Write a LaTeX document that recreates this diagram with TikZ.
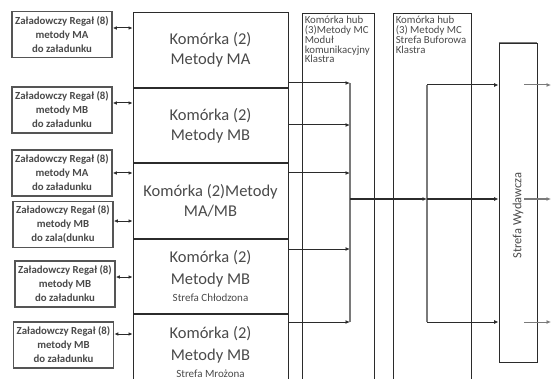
\documentclass[tikz,border=0pt]{standalone}
\usepackage{fontspec}
\setmainfont{Carlito}
\usetikzlibrary{arrows.meta,positioning}
\definecolor{Ink}{HTML}{2B2B2B}
\definecolor{Txt}{HTML}{4A4A4A}
\definecolor{Frame}{HTML}{555555}
\definecolor{Wire}{HTML}{7A7A7A}

\begin{document}
\begin{tikzpicture}[x=1pt,y=-1pt,
    rack/.style={draw=Frame,line width=1.6pt,fill=white,text=Txt,align=center,
      minimum width=100pt,minimum height=46pt,inner sep=0pt,
      font=\bfseries\fontsize{10.8}{14}\selectfont},
    cell/.style={draw=Ink,line width=0.9pt,text=Txt,align=center,
      minimum width=155pt,minimum height=74.5pt,inner sep=0pt,
      font=\fontsize{16.5}{20}\selectfont},
    hub/.style={draw=Ink,line width=0.9pt,minimum height=380pt,anchor=north,inner sep=0pt},
    hubtext/.style={anchor=north west,align=left,text=Txt,inner sep=3pt,
      font=\fontsize{10.8}{9.8}\selectfont},
    link/.style={Ink,line width=1pt,-{Latex[length=4.5pt,width=4pt]}},
    twoway/.style={Ink,line width=1pt,{Latex[length=4pt,width=3.6pt]}-{Latex[length=4pt,width=3.6pt]}},
    bus/.style={Wire,line width=1.5pt}]
  \useasboundingbox (0,0) rectangle (553,379);
  \clip (0,0) rectangle (553,379);

  % regaly zaladowcze
  \node[rack] (r1) at (62,34.5) {Załadowczy Regał (8)\\metody MA\\do załadunku};
  \node[rack] (r2) at (62,110) {Załadowczy Regał (8)\\metody MB\\do załadunku};
  \node[rack] (r3) at (62,173) {Załadowczy Regał (8)\\metody MA\\do załadunku};
  \node[rack] (r4) at (63,224.5) {Załadowczy Regał (8)\\metody MB\\do zala(dunku};
  \node[rack] (r5) at (65,284) {Załadowczy Regał (8)\\metody MB\\do załadunku};
  \node[rack] (r6) at (63.5,345) {Załadowczy Regał (8)\\metody MB\\do załadunku};

  % komorki
  \node[cell] (c1) at (210.5,50) {Komórka (2)\\Metody MA};
  \node[cell,below=0pt of c1] (c2) {Komórka (2)\\Metody MB};
  \node[cell,below=0pt of c2] (c3) {Komórka (2)Metody\\MA/MB};
  \node[cell,below=0pt of c3] (c4) {Komórka (2)\\[2pt]Metody MB\\[-3pt]{\fontsize{11}{13}\selectfont Strefa Chłodzona}};
  \node[cell,below=0pt of c4] (c5) {Komórka (2)\\[2pt]Metody MB\\[-3pt]{\fontsize{11}{13}\selectfont Strefa Mrożona}};

  % huby
  \node[hub,minimum width=72pt] (h1) at (338,13) {};
  \node[hub,minimum width=78pt] (h2) at (432,13) {};
  \node[hubtext] at (h1.north west) {Komórka hub\\(3)Metody MC\\Moduł\\komunikacyjny\\Klastra};
  \node[hubtext] at (h2.north west) {Komórka hub\\(3) Metody MC\\Strefa Buforowa\\Klastra};

  % strefa wydawcza
  \node[draw=Ink,line width=0.9pt,minimum width=38pt,minimum height=319pt,inner sep=0pt] (wyd) at (518,202.5) {};
  \draw[Wire,line width=1.8pt] (wyd.north west) -- (wyd.north east);
  \node[rotate=90,text=Txt,font=\fontsize{12.5}{14}\selectfont] at ([yshift=-13pt]wyd.center) {Strefa Wydawcza};

  \foreach \n/\y in {1/28,2/103,3/173,4/221,5/277,6/334} {
    \coordinate (a\n) at (0,\y);
    \draw[twoway] (r\n.east |- a\n) -- (a\n -| c1.west);
  }

  \foreach \n/\y in {1/83,2/125,3/173,4/249,5/322}
    \coordinate (b\n) at (350,\y);
  \coordinate (bm) at (350,199);
  \foreach \n/\y in {1/85,2/199,3/322} {
    \coordinate (d\n) at (427,\y);
    \coordinate (o\n) at (551,\y);
  }
  \coordinate (ws) at ([xshift=-13pt]wyd.east);

  \foreach \n in {1,...,5}
    \draw[link] (c\n.east |- b\n) -- (b\n);
  \draw[bus] (b1) -- (b5);
  \draw[link] (bm) -- (d2);
  \draw[bus] (d1) -- (d3);
  \foreach \n in {1,2,3} {
    \draw[link] (d\n) -- (d\n -| wyd.west);
    \draw[link,Wire] (ws |- o\n) -- (o\n);
  }
\end{tikzpicture}
\end{document}
